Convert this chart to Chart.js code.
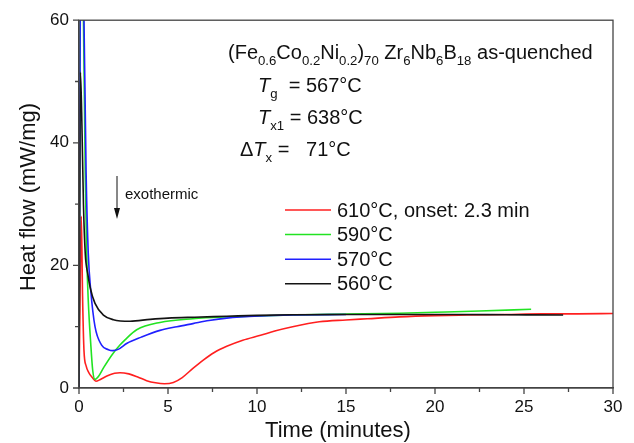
<!DOCTYPE html>
<html>
<head>
<meta charset="utf-8">
<script src="https://cdn.jsdelivr.net/npm/chart.js@4.4.0/dist/chart.umd.min.js"></script>
<style>
  html, body { margin: 0; padding: 0; background: #fff; }
  #wrap { width: 634px; height: 443px; }
</style>
</head>
<body>
<div id="wrap"><canvas id="graphe" width="634" height="443"></canvas></div>
<script>
"use strict";

// valeurs (temps en minutes, flux en mW/mg)
const etiquettes = ["610°C, onset: 2.3 min", "590°C", "570°C", "560°C"];
const couleurs = ["#ff1f1f", "#22e322", "#2020ff", "#141414"];

const temps610 = [0, 0.08, 0.13, 0.2, 0.28, 0.4, 0.55, 0.75, 0.95, 1.2, 1.6, 2.0, 2.3, 2.8, 3.3, 3.8, 4.3, 4.8, 5.3, 5.8, 6.4, 7.0, 7.6, 8.3, 9.2, 10.2, 11.0, 12.0, 13.5, 15, 16.2, 18, 20, 21.8, 24, 26, 28, 30];
const flux610 = [0, 20, 28, 15, 6.1, 3.6, 2.5, 1.7, 1.1, 1.4, 2.0, 2.4, 2.5, 2.3, 1.8, 1.2, 0.85, 0.7, 0.9, 1.7, 3.2, 4.6, 5.8, 6.8, 7.8, 8.6, 9.3, 10.0, 10.8, 11.1, 11.3, 11.6, 11.8, 11.9, 12.0, 12.1, 12.1, 12.15];

const temps590 = [0, 0.1, 0.25, 0.35, 0.43, 0.52, 0.66, 0.77, 0.9, 1.1, 1.4, 1.9, 2.3, 2.6, 3.24, 4.55, 6.4, 8.3, 10, 12, 15, 18, 20, 22.5, 25.4];
const flux590 = [0, 70, 60, 35, 22, 14.3, 7.2, 2.9, 1.4, 1.9, 3.4, 5.6, 7.0, 7.9, 9.5, 10.7, 11.3, 11.6, 11.75, 11.9, 12.05, 12.2, 12.35, 12.55, 12.85];

const temps570 = [0, 0.1, 0.28, 0.4, 0.52, 0.66, 0.9, 1.27, 1.65, 1.9, 2.2, 2.7, 3.5, 4.55, 5.5, 6.4, 7.3, 8.3, 10.2, 12, 15];
const flux570 = [0, 75, 60, 35, 22, 15.9, 10, 7, 6.25, 6.1, 6.3, 7.3, 8.3, 9.4, 10.0, 10.5, 11.0, 11.4, 11.75, 11.9, 12.0];

const temps560 = [0, 0.08, 0.15, 0.25, 0.35, 0.5, 0.62, 0.9, 1.37, 1.93, 2.87, 4, 5, 6.5, 8.3, 10, 12, 15, 18, 21, 24, 27.2];
const flux560 = [0, 51.5, 45, 30, 22, 18.5, 16.5, 13.8, 11.9, 11.15, 10.9, 11.2, 11.4, 11.55, 11.7, 11.85, 11.95, 12.0, 12.0, 12.0, 11.95, 11.9];

const graduationsX = [0, 5, 10, 15, 20, 25, 30];
const graduationsY = [0, 20, 40, 60];

const police = "'Liberation Sans', Arial, sans-serif";

function paires(xs, ys) {
  return xs.map((x, i) => ({ x: x, y: ys[i] }));
}

const series = [
  paires(temps560, flux560),
  paires(temps570, flux570),
  paires(temps590, flux590),
  paires(temps610, flux610)
];
const ordre = [3, 2, 1, 0];

// texte avec indices (subscripts)
function ecrire(ctx, x, y, morceaux, taille) {
  morceaux.forEach(m => {
    let t = m.sub ? taille * 0.66 : taille;
    ctx.font = (m.it ? "italic " : "") + t + "px " + police;
    ctx.fillText(m.t, x, m.sub ? y + taille * 0.3 : y);
    x += ctx.measureText(m.t).width;
  });
}

const decor = {
  id: "decor",
  afterDraw(chart) {
    const ctx = chart.ctx;
    const a = chart.chartArea;
    const sx = chart.scales.x, sy = chart.scales.y;
    ctx.save();
    // cadre
    ctx.strokeStyle = "#444";
    ctx.lineWidth = 1.3;
    ctx.strokeRect(a.left, a.top, a.right - a.left, a.bottom - a.top);
    // graduations
    ctx.beginPath();
    for (let v = 0; v <= 30; v += 2.5) {
      let px = sx.getPixelForValue(v);
      let l = (v % 5 === 0) ? 6 : 4;
      ctx.moveTo(px, a.bottom); ctx.lineTo(px, a.bottom + l);
    }
    for (let v = 0; v <= 60; v += 10) {
      let py = sy.getPixelForValue(v);
      let l = (v % 20 === 0) ? 6 : 4;
      ctx.moveTo(a.left, py); ctx.lineTo(a.left - l, py);
    }
    ctx.stroke();

    ctx.fillStyle = "#111";
    ctx.textBaseline = "alphabetic";
    ctx.textAlign = "left";
    // titres des axes
    ctx.font = "22px " + police;
    ctx.textAlign = "center";
    ctx.fillText("Time (minutes)", 338, 437);
    ctx.save();
    ctx.translate(35, 197);
    ctx.rotate(-Math.PI / 2);
    ctx.fillText("Heat flow (mW/mg)", 0, 0);
    ctx.restore();
    ctx.textAlign = "left";

    // composition et temperatures
    ecrire(ctx, 228, 59, [
      { t: "(Fe" }, { t: "0.6", sub: true }, { t: "Co" }, { t: "0.2", sub: true },
      { t: "Ni" }, { t: "0.2", sub: true }, { t: ")" }, { t: "70", sub: true },
      { t: " Zr" }, { t: "6", sub: true }, { t: "Nb" }, { t: "6", sub: true },
      { t: "B" }, { t: "18", sub: true }, { t: " as-quenched" }
    ], 20);
    ecrire(ctx, 258, 92, [{ t: "T", it: true }, { t: "g", sub: true }, { t: "  = 567°C" }], 20);
    ecrire(ctx, 258, 124, [{ t: "T", it: true }, { t: "x1", sub: true }, { t: " = 638°C" }], 20);
    ecrire(ctx, 240, 156, [{ t: "Δ" }, { t: "T", it: true }, { t: "x", sub: true }, { t: " =   71°C" }], 20);

    // fleche exothermique
    ctx.strokeStyle = "#111";
    ctx.lineWidth = 1;
    ctx.beginPath();
    ctx.moveTo(117, 176); ctx.lineTo(117, 214);
    ctx.stroke();
    ctx.beginPath();
    ctx.moveTo(114, 208); ctx.lineTo(117, 219); ctx.lineTo(120, 208);
    ctx.closePath();
    ctx.fill();
    ctx.font = "15px " + police;
    ctx.fillText("exothermic", 125, 199);

    // legende
    ctx.font = "20px " + police;
    ctx.textBaseline = "middle";
    etiquettes.forEach((lab, i) => {
      let y = 210 + i * 24.6;
      ctx.strokeStyle = couleurs[i];
      ctx.lineWidth = 1.5;
      ctx.beginPath();
      ctx.moveTo(285, y); ctx.lineTo(331, y);
      ctx.stroke();
      ctx.fillText(lab, 337, y + 1);
    });
    ctx.restore();
  }
};

const ctx = document.getElementById("graphe").getContext("2d");
const myChart = new Chart(ctx, {
  type: "line",
  data: {
    datasets: ordre.map((k, j) => ({
      label: etiquettes[k],
      data: series[j],
      borderColor: couleurs[k],
      borderWidth: 1.6,
      pointRadius: 0,
      fill: false,
      cubicInterpolationMode: "monotone"
    }))
  },
  options: {
    responsive: false,
    animation: false,
    layout: { padding: { top: 20, right: 21, left: 0, bottom: 0 } },
    plugins: { legend: { display: false }, tooltip: { enabled: false } },
    scales: {
      x: {
        type: "linear",
        min: 0, max: 30,
        afterBuildTicks: s => { s.ticks = graduationsX.map(v => ({ value: v })); },
        afterFit: s => { s.height = 55; },
        ticks: { color: "#111", font: { family: police, size: 17 }, padding: 9, maxRotation: 0 },
        grid: { display: true, drawOnChartArea: false, drawTicks: false },
        border: { color: "#444", width: 1.3 }
      },
      y: {
        min: 0, max: 60,
        afterBuildTicks: s => { s.ticks = graduationsY.map(v => ({ value: v })); },
        afterFit: s => { s.width = 79; },
        ticks: { color: "#111", font: { family: police, size: 17 }, padding: 10 },
        grid: { display: true, drawOnChartArea: false, drawTicks: false },
        border: { color: "#444", width: 1.3 }
      }
    }
  },
  plugins: [decor]
});
</script>
</body>
</html>
